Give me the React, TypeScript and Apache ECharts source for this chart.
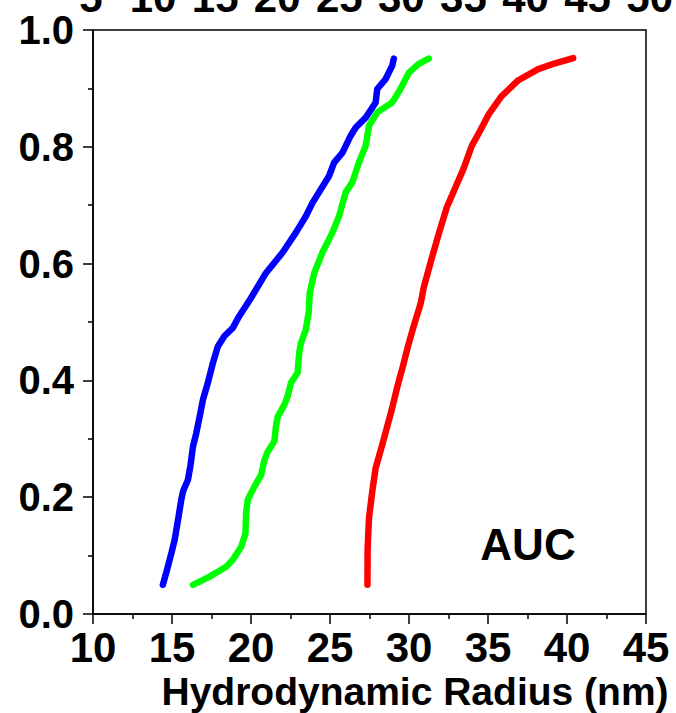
import React, { useEffect, useRef } from "react";
import * as echarts from "echarts";

// Cumulative fraction (y) vs hydrodynamic radius in nm (x)
const blueRadius = [14.42, 14.68, 14.96, 15.17, 15.38, 15.59, 15.7, 16.01, 16.16, 16.33, 16.54, 16.75, 16.96, 17.27, 17.59, 17.9, 18.32, 18.85, 19.25, 19.95, 20.95, 22.0, 22.84, 23.47, 23.89, 24.94, 25.26, 25.79, 26.31, 26.63, 27.26, 27.89, 27.99, 28.52, 28.94, 29.04];
const blueFraction = [0.05, 0.075, 0.104, 0.127, 0.161, 0.196, 0.21, 0.23, 0.253, 0.287, 0.31, 0.338, 0.367, 0.396, 0.43, 0.458, 0.476, 0.49, 0.51, 0.539, 0.584, 0.619, 0.653, 0.681, 0.704, 0.75, 0.773, 0.79, 0.819, 0.833, 0.85, 0.876, 0.899, 0.916, 0.939, 0.951];

const greenRadius = [16.33, 17.38, 18.43, 18.85, 19.38, 19.65, 19.69, 19.8, 20.21, 20.64, 20.85, 21.06, 21.48, 21.58, 21.69, 22.11, 22.32, 22.53, 22.95, 23.05, 23.16, 23.47, 23.65, 23.72, 24.0, 24.52, 25.15, 25.57, 25.99, 26.41, 26.83, 27.26, 27.47, 27.99, 28.94, 29.46, 29.99, 30.62, 31.25];
const greenFraction = [0.05, 0.064, 0.081, 0.093, 0.115, 0.138, 0.173, 0.196, 0.218, 0.238, 0.264, 0.278, 0.296, 0.321, 0.338, 0.358, 0.373, 0.396, 0.413, 0.447, 0.464, 0.487, 0.516, 0.55, 0.584, 0.619, 0.653, 0.681, 0.722, 0.739, 0.773, 0.802, 0.836, 0.859, 0.876, 0.899, 0.927, 0.942, 0.951];

const redRadius = [27.37, 27.38, 27.47, 27.68, 27.89, 28.31, 28.9, 29.25, 29.65, 29.95, 30.3, 30.75, 30.93, 31.46, 31.88, 32.4, 32.93, 33.46, 33.98, 34.51, 35.03, 35.87, 36.92, 38.18, 39.24, 40.39];
const redFraction = [0.05, 0.112, 0.165, 0.211, 0.25, 0.29, 0.349, 0.388, 0.428, 0.46, 0.493, 0.533, 0.559, 0.611, 0.651, 0.697, 0.73, 0.763, 0.802, 0.828, 0.855, 0.887, 0.914, 0.933, 0.943, 0.952];

const xAxisTitle = "Hydrodynamic Radius (nm)";
const panelLabel = "AUC";

const FONT = "'Liberation Sans', Arial, Helvetica, sans-serif";

const zip = (xs: number[], ys: number[]) => xs.map((x, i) => [x, ys[i]]);

export default function App() {
  const ref = useRef<HTMLDivElement>(null);
  useEffect(() => {
    if (!ref.current) return;
    const chart = echarts.init(ref.current, null, { renderer: "svg" });
    const labelStyle = { fontSize: 42, fontWeight: "bold" as const, fontFamily: FONT, color: "#000" };
    const lineSeries = (name: string, color: string, data: number[][]) => ({
      name,
      type: "line",
      xAxisIndex: 0,
      yAxisIndex: 0,
      data,
      showSymbol: false,
      symbol: "none",
      lineStyle: { color, width: 6.5, cap: "round", join: "round" },
      silent: true,
    });
    chart.setOption({
      animation: false,
      backgroundColor: "#fff",
      grid: [
        { left: 93, right: 30, top: 30, bottom: 99, show: true, borderColor: "#000", borderWidth: 1.5, backgroundColor: "transparent" },
        { left: 91, right: 22, top: 30, height: 2, show: false },
      ],
      xAxis: [
        {
          gridIndex: 0,
          type: "value",
          min: 10,
          max: 45,
          interval: 5,
          axisLine: { show: true, lineStyle: { color: "#000", width: 1.5 } },
          axisTick: { show: true, inside: false, length: 10, lineStyle: { color: "#000", width: 1.5 } },
          minorTick: { show: true, splitNumber: 2, length: 5, lineStyle: { color: "#000", width: 1.5 } },
          axisLabel: { ...labelStyle, margin: 12 },
          splitLine: { show: false },
        },
        {
          gridIndex: 1,
          type: "value",
          position: "top",
          min: 5,
          max: 50,
          interval: 5,
          axisLine: { show: false },
          axisTick: { show: false },
          axisLabel: { ...labelStyle, margin: 14 },
          splitLine: { show: false },
        },
      ],
      yAxis: [
        {
          gridIndex: 0,
          type: "value",
          min: 0,
          max: 1,
          interval: 0.2,
          axisLine: { show: true, lineStyle: { color: "#000", width: 1.5 } },
          axisTick: { show: true, inside: false, length: 10, lineStyle: { color: "#000", width: 1.5 } },
          minorTick: { show: true, splitNumber: 2, length: 5, lineStyle: { color: "#000", width: 1.5 } },
          axisLabel: { ...labelStyle, fontSize: 40, margin: 19, formatter: (v: number) => v.toFixed(1) },
          splitLine: { show: false },
        },
        { gridIndex: 1, type: "value", show: false, min: 0, max: 1 },
      ],
      graphic: [
        {
          type: "text",
          x: 415,
          y: 691,
          style: { text: xAxisTitle, font: `bold 39px ${FONT}`, fill: "#000", textAlign: "center", textVerticalAlign: "middle" },
        },
        {
          type: "text",
          x: 528,
          y: 544,
          style: { text: panelLabel, font: `bold 44px ${FONT}`, fill: "#000", textAlign: "center", textVerticalAlign: "middle" },
        },
      ],
      series: [
        lineSeries("blue", "#0000ff", zip(blueRadius, blueFraction)),
        lineSeries("green", "#00ff00", zip(greenRadius, greenFraction)),
        lineSeries("red", "#ff0000", zip(redRadius, redFraction)),
      ],
    });
    return () => chart.dispose();
  }, []);
  return <div ref={ref} style={{ position: "fixed", left: 0, top: 0, width: 676, height: 713 }} />;
}
